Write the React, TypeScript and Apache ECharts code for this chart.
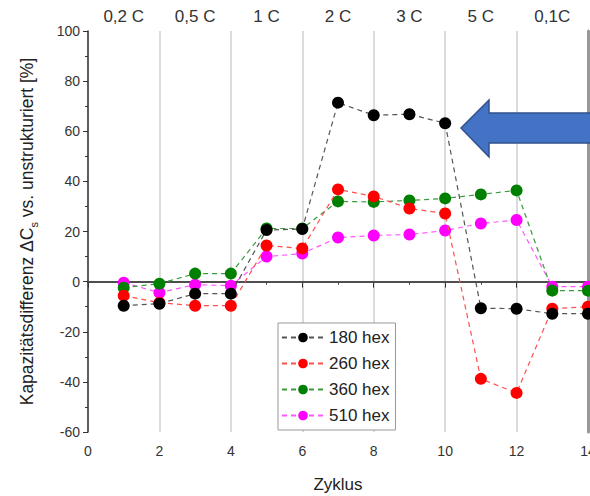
import React, { useEffect, useRef } from "react";
import * as echarts from "echarts";

const cycles = [1, 2, 3, 4, 5, 6, 7, 8, 9, 10, 11, 12, 13, 14];
const hex180 = [-9.6, -8.8, -4.8, -4.8, 20.6, 21, 71.4, 66.4, 66.8, 63.2, -10.6, -10.8, -12.8, -12.8];
const hex260 = [-5.6, -8.4, -9.6, -9.6, 14.4, 13.2, 36.8, 34, 29.2, 27.2, -38.8, -44.4, -10.8, -10];
const hex360 = [-2.4, -0.8, 3.2, 3.2, 21.2, 21.2, 32, 31.8, 32.4, 33.2, 34.8, 36.4, -3.6, -3.6];
const hex510 = [-0.4, -4.4, -1.2, -1.6, 10, 11.2, 17.6, 18.4, 18.8, 20.4, 23.2, 24.6, -2, -2];
const rateLabels = ["0,2 C", "0,5 C", "1 C", "2 C", "3 C", "5 C", "0,1C"];

const seriesDefs = [
  { name: "180 hex", data: hex180, color: "#000000", line: "#555555" },
  { name: "260 hex", data: hex260, color: "#ff0000", line: "#ff5050" },
  { name: "360 hex", data: hex360, color: "#008000", line: "#3a9a3a" },
  { name: "510 hex", data: hex510, color: "#ff00ff", line: "#ff55ff" },
];

const FONT = "Liberation Sans, Arial, sans-serif";

export default function App() {
  const ref = useRef<HTMLDivElement>(null);
  useEffect(() => {
    if (!ref.current) return;
    const chart = echarts.init(ref.current, undefined, { renderer: "svg" });
    const series: any[] = seriesDefs.map((s, i) => ({
      name: s.name,
      type: "line",
      xAxisIndex: 0,
      yAxisIndex: 0,
      data: cycles.map((c, k) => [c, s.data[k]]),
      symbol: "circle",
      symbolSize: 12,
      clip: false,
      itemStyle: { color: s.color },
      lineStyle: { color: s.line, type: [5, 4], width: 1.2 },
      z: 10 - i,
      markLine:
        i === 0
          ? {
              silent: true,
              symbol: "none",
              label: { show: false },
              lineStyle: { color: "#555", type: "solid", width: 1.5 },
              data: [{ yAxis: 0 }],
              z: 1,
            }
          : undefined,
    }));
    chart.setOption({
      animation: false,
      textStyle: { fontFamily: FONT },
      grid: {
        left: 88,
        top: 31,
        width: 500,
        height: 401,
        containLabel: false,
        outerBoundsMode: "none",
      },
      legend: {
        orient: "vertical",
        left: 278,
        top: 323,
        itemWidth: 42,
        itemHeight: 12,
        itemGap: 9,
        padding: [6, 6, 6, 3],
        borderColor: "#999",
        borderWidth: 1,
        backgroundColor: "#fff",
        textStyle: { fontSize: 17, lineHeight: 14, color: "#222", fontFamily: FONT },
        data: seriesDefs.map((s) => s.name),
      },
      xAxis: [
        {
          type: "value",
          min: 0,
          max: 14,
          interval: 2,
          position: "bottom",
          name: "Zyklus",
          nameLocation: "middle",
          nameGap: 44,
          nameTextStyle: { fontSize: 17, color: "#222", fontFamily: FONT },
          axisLine: { show: true, lineStyle: { color: "#333", width: 1.5 } },
          axisTick: { show: true, length: 5, lineStyle: { color: "#333" } },
          minorTick: { show: true, splitNumber: 2, length: 3, lineStyle: { color: "#333" } },
          axisLabel: { fontSize: 14, color: "#333", margin: 12, fontFamily: FONT },
          splitLine: { show: true, lineStyle: { color: "#cfcfcf", width: 1.5 } },
        },
        {
          type: "category",
          position: "top",
          data: rateLabels,
          boundaryGap: true,
          axisLine: { show: true, lineStyle: { color: "#333", width: 1.5 } },
          axisTick: { show: true, inside: true, length: 6, alignWithLabel: false, lineStyle: { color: "#333" } },
          axisLabel: { fontSize: 17, color: "#333", margin: 6, fontFamily: FONT },
          splitLine: { show: false },
        },
      ],
      yAxis: [
        {
          type: "value",
          min: -60,
          max: 100,
          interval: 20,
          name: "Kapazitätsdifferenz ΔC{sub|s} vs. unstrukturiert [%]",
          nameLocation: "middle",
          nameGap: 52,
          nameRotate: 90,
          nameTextStyle: {
            fontSize: 17.5,
            color: "#222",
            fontFamily: FONT,
            rich: { sub: { fontSize: 11, verticalAlign: "bottom", padding: [0, 0, -3, 0], color: "#222" } },
          },
          axisLine: { show: true, lineStyle: { color: "#333", width: 1.5 } },
          axisTick: { show: true, length: 5, lineStyle: { color: "#333" } },
          minorTick: { show: true, splitNumber: 2, length: 3, lineStyle: { color: "#333" } },
          axisLabel: { fontSize: 14, color: "#333", margin: 8, fontFamily: FONT },
          splitLine: { show: false },
        },
        {
          type: "value",
          min: -60,
          max: 100,
          interval: 20,
          position: "right",
          axisLine: { show: true, lineStyle: { color: "#999", width: 3 } },
          axisTick: { show: false },
          axisLabel: { show: false },
          splitLine: { show: false },
        },
      ],
      series,
      graphic: [
        {
          type: "polygon",
          z: 100,
          shape: {
            points: [
              [461, 128],
              [489, 100],
              [489, 113],
              [600, 113],
              [600, 143],
              [489, 143],
              [489, 157],
            ],
          },
          style: { fill: "#4472C4", stroke: "#2F528F", lineWidth: 1.5 },
        },
      ],
    });
    return () => chart.dispose();
  }, []);
  return (
    <div
      ref={ref}
      style={{ position: "fixed", left: 0, top: 0, width: 590, height: 496, background: "#fff" }}
    />
  );
}
